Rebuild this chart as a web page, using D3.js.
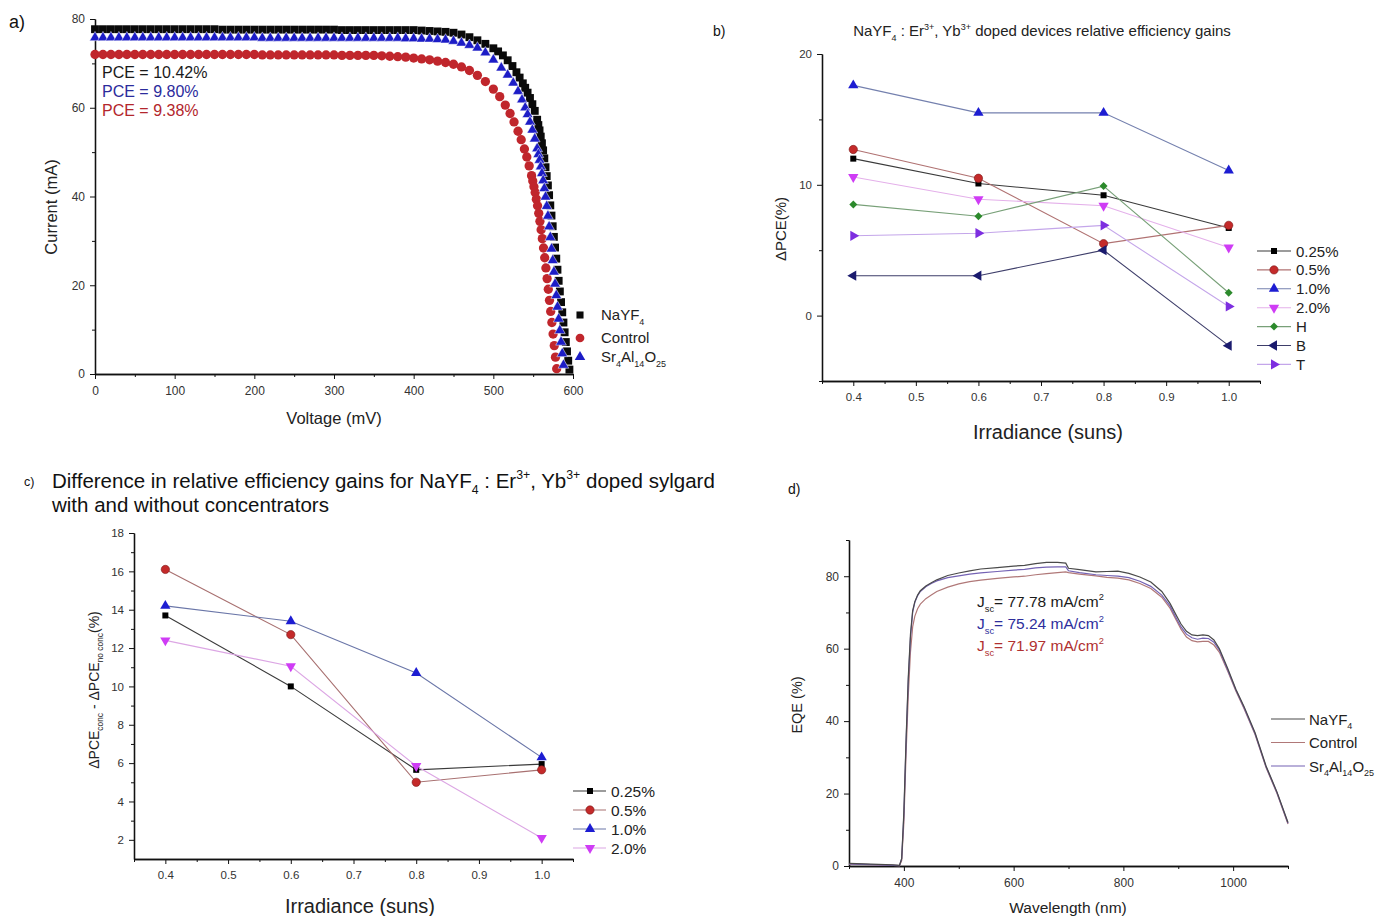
<!DOCTYPE html>
<html>
<head>
<meta charset="utf-8">
<script src="https://cdn.jsdelivr.net/npm/d3@7"></script>
<style>
  body { margin: 0; background: #fff; }
  text { font-family: "Liberation Sans", Arial, sans-serif; }
</style>
</head>
<body>
<div class="svg-wrapper"></div>
<script>
// ---------- panel a: J-V curves ----------
const jvVoltageNa = [0,10,20,30,40,50,60,70,80,90,100,110,120,130,140,150,160,170,180,190,200,210,220,230,240,250,260,270,280,290,300,310,320,330,340,350,360,370,380,390,400,410,420,430,440,
  450,460,470,480,490,500,506,512,518,524,529,533,537,540,543,546,549,552,
  555,556.5,558,559.5,561,562.5,564,565.5,567,568.5,570,571.5,573,574.5,576,577.5,579,580.5,582,583.5,585,586.5,588,589.5,591,592.5,594,595.5];
const jvCurrentNa = [77.7,77.7,77.7,77.7,77.7,77.7,77.7,77.7,77.7,77.7,77.7,77.7,77.7,77.7,77.7,77.7,77.6,77.6,77.6,77.6,77.6,77.6,77.6,77.6,77.6,77.6,77.6,77.6,77.6,77.6,77.6,77.5,77.5,77.5,77.5,77.5,77.5,77.5,77.5,77.5,77.5,77.4,77.3,77.2,77.1,
  76.9,76.5,75.9,75.2,74.4,73.4,72.7,71.8,70.7,69.4,68.0,66.8,65.5,64.5,63.4,62.2,60.8,59.3,
  57.3,56.1,54.9,53.5,52.0,50.4,48.6,46.6,44.6,42.5,40.3,38.0,35.7,33.3,30.9,28.5,26.0,23.5,21.0,18.6,16.2,13.9,11.6,9.4,7.2,5.1,3.0,1.0];

const jvVoltageCtrl = [0,10,20,30,40,50,60,70,80,90,100,110,120,130,140,150,160,170,180,190,200,210,220,230,240,250,260,270,280,290,300,310,320,330,340,350,360,370,380,390,400,410,420,430,440,
  450,460,470,480,490,500,508,515,521,526,531,535,539,542,545,
  548,549.5,551,552.5,554,555.5,557,558.5,560,561.5,563,564.5,566,567.5,569,570.5,572,573.5,575,576.5,578,579.5];
const jvCurrentCtrl = [72.0,72.0,72.0,72.0,72.0,72.0,72.0,72.0,72.0,72.0,72.0,72.0,72.0,72.0,72.0,72.0,72.0,72.0,72.0,72.0,72.0,71.9,71.9,71.9,71.9,71.9,71.9,71.9,71.9,71.9,71.9,71.8,71.8,71.8,71.8,71.8,71.7,71.6,71.5,71.4,71.2,71.0,70.8,70.5,70.2,
  69.8,69.2,68.4,67.3,65.9,64.2,62.5,60.6,58.7,56.8,54.7,52.8,50.7,48.9,46.9,
  44.7,43.5,42.2,40.9,39.4,37.9,36.2,34.4,32.5,30.5,28.4,26.2,23.9,21.5,19.1,16.6,14.1,11.6,9.0,6.4,3.8,1.2];

const jvVoltageSr = [0,10,20,30,40,50,60,70,80,90,100,110,120,130,140,150,160,170,180,190,200,210,220,230,240,250,260,270,280,290,300,310,320,330,340,350,360,370,380,390,400,410,420,430,440,
  450,460,470,480,490,500,510,518,525,531,536,540,543,546,549,552,
  555,556.5,558,559.5,561,562.5,564,565.5,567,568.5,570,571.5,573,574.5,576,577.5,579,580.5,582,583.5,585,586.5,588];
const jvCurrentSr = [75.8,75.8,75.8,75.8,75.8,75.8,75.8,75.8,75.8,75.8,75.8,75.8,75.8,75.8,75.8,75.8,75.8,75.8,75.8,75.8,75.8,75.7,75.7,75.7,75.7,75.7,75.7,75.7,75.7,75.7,75.7,75.7,75.7,75.7,75.7,75.7,75.7,75.7,75.7,75.6,75.6,75.5,75.5,75.4,75.3,
  75.0,74.6,74.1,73.5,72.4,70.8,69.0,67.4,65.6,63.7,61.8,60.0,58.5,56.8,55.0,53.0,
  50.8,49.5,48.2,46.7,45.2,43.6,41.8,39.9,37.8,35.6,33.2,30.8,28.2,25.6,23.0,20.3,17.7,15.1,12.4,9.8,7.2,4.6,2.0];

const pceLabels = ["PCE = 10.42%", "PCE = 9.80%", "PCE = 9.38%"];

// ---------- panel b: relative efficiency gains ----------
const irradiance = [0.4, 0.6, 0.8, 1.0];
const gainSeries = ["0.25%", "0.5%", "1.0%", "2.0%", "H", "B", "T"];
const gain025 = [12.0, 10.1, 9.2, 6.7];
const gain05  = [12.7, 10.5, 5.5, 6.9];
const gain10  = [17.6, 15.5, 15.5, 11.1];
const gain20  = [10.6, 8.9, 8.4, 5.2];
const gainH   = [8.5, 7.6, 9.9, 1.75];
const gainB   = [3.05, 3.05, 5.0, -2.3];
const gainT   = [6.1, 6.3, 6.9, 0.7];

// ---------- panel c: difference with / without concentrators ----------
const diffSeries = ["0.25%", "0.5%", "1.0%", "2.0%"];
const diff025 = [13.7, 10.0, 5.65, 5.95];
const diff05  = [16.1, 12.7, 5.0, 5.65];
const diff10  = [14.2, 13.4, 10.7, 6.3];
const diff20  = [12.4, 11.05, 5.85, 2.1];

// ---------- panel d: EQE ----------
const wavelength = [300,340,380,392,396,400,404,408,412,416,420,425,430,440,450,460,480,500,520,540,570,600,620,640,660,680,695,
  700,720,750,770,790,810,830,850,870,885,895,905,915,925,935,945,955,965,975,990,1005,1020,1040,1060,1080,1100];
const eqeNa   = [0.7,0.5,0.3,0.2,2,15,35,52,64,70.5,73,74.8,76,77.3,78.2,79,80.2,80.9,81.5,82,82.4,82.8,83,83.5,83.8,83.8,83.6,
  82.2,81.8,81.2,81.3,81.4,80.8,79.8,78.4,75.8,72.5,69.6,66.8,64.8,63.8,63.6,63.8,63.6,62.4,60.0,54.6,48.8,44.0,36.8,27.6,20.4,12.0];
const eqeCtrl = [0.5,0.4,0.2,0.1,1.5,12,31,47,59,66,69,71,72.3,73.8,74.8,75.8,77,77.9,78.5,78.9,79.4,79.8,80,80.4,80.7,81,81.2,
  81.0,80.6,80.1,79.7,79.5,79.0,78.0,76.6,74.2,71.2,68.3,65.4,63.2,62.2,61.9,62.0,62.0,61.0,59.0,53.8,48.3,43.4,36.3,27.2,20.0,11.6];
const eqeSr   = [0.6,0.4,0.2,0.1,2,14,34,51,63,70,72.8,74.6,75.8,77.1,78,78.7,79.6,80.1,80.6,80.9,81.3,81.7,81.9,82.3,82.5,82.6,82.6,
  81.5,81.0,80.4,80.2,80.0,79.6,78.6,77.2,74.8,71.8,68.8,66.0,64.0,63.0,62.6,62.9,62.8,61.8,59.6,54.2,48.6,43.7,36.5,27.4,20.2,11.8];
const jscLabels = ["= 77.78 mA/cm", "= 75.24 mA/cm", "= 71.97 mA/cm"];

// ------------------------------------------------------------
const svg = d3.select(".svg-wrapper").append("svg")
  .attr("width", 1375).attr("height", 916)
  .attr("viewBox", "0 0 1375 916");
svg.append("rect").attr("width", 1375).attr("height", 916).attr("fill", "#fff");

// text with sub / superscripts: parts = ["text", ["4","sub"], ["3+","sup"]]
function rich(g, x, y, parts, size, color, anchor) {
  const t = g.append("text").attr("x", x).attr("y", y)
    .attr("font-size", size).attr("fill", color || "#000")
    .attr("text-anchor", anchor || "start");
  let off = 0;
  parts.forEach(p => {
    const str = Array.isArray(p) ? p[0] : p;
    const kind = Array.isArray(p) ? p[1] : null;
    const target = kind == "sub" ? size * 0.3 : (kind == "sup" ? -size * 0.42 : 0);
    t.append("tspan")
      .attr("dy", target - off)
      .attr("font-size", kind ? size * 0.6 : size)
      .text(str);
    off = target;
  });
  return t;
}

function drawAxes(g, x, y, o) {
  const xAxis = d3.axisBottom(x).tickValues(o.xMajor).tickSize(5).tickSizeOuter(0).tickPadding(7).tickFormat(o.xFmt);
  const xMinor = d3.axisBottom(x).tickValues(o.xMinor).tickSize(3).tickSizeOuter(0).tickFormat("");
  const yAxis = d3.axisLeft(y).tickValues(o.yMajor).tickSize(5).tickSizeOuter(0).tickPadding(5).tickFormat(o.yFmt);
  const yMinor = d3.axisLeft(y).tickValues(o.yMinor).tickSize(3).tickSizeOuter(0).tickFormat("");

  const xg = g.append("g").attr("transform", `translate(0,${y.range()[0]})`);
  xg.append("g").call(xMinor);
  xg.append("g").call(xAxis);
  const yg = g.append("g").attr("transform", `translate(${x.range()[0]},0)`);
  yg.append("g").call(yMinor);
  yg.append("g").call(yAxis);

  g.selectAll(".domain").attr("stroke", "#111").attr("stroke-width", 1.3);
  g.selectAll(".tick line").attr("stroke", "#111").attr("stroke-width", 1);
  g.selectAll(".tick text").attr("fill", "#333").attr("font-size", o.tickSize)
    .attr("font-family", '"Liberation Sans", Arial, sans-serif');
}

function marker(sel, shape, size, fill, stroke) {
  let sym = d3.symbolCircle, rot = 0;
  if (shape == "square") sym = d3.symbolSquare;
  if (shape == "diamond") { sym = d3.symbolSquare; rot = 45; }
  if (shape == "up") sym = d3.symbolTriangle;
  if (shape == "down") { sym = d3.symbolTriangle; rot = 180; }
  if (shape == "left") { sym = d3.symbolTriangle; rot = -90; }
  if (shape == "right") { sym = d3.symbolTriangle; rot = 90; }
  return sel.append("path")
    .attr("d", d3.symbol().type(sym).size(size)())
    .attr("fill", fill)
    .attr("stroke", stroke || "none")
    .attr("stroke-width", 0.6)
    .attr("data-rot", rot);
}

// ================= panel a =================
(function(){
  const g = svg.append("g");
  const x = d3.scaleLinear().domain([0, 600]).range([95, 573]);
  const y = d3.scaleLinear().domain([0, 80]).range([374, 19]);

  drawAxes(g, x, y, {
    xMajor: [0,100,200,300,400,500,600], xMinor: [50,150,250,350,450,550],
    yMajor: [0,20,40,60,80], yMinor: [10,30,50,70],
    xFmt: d3.format("d"), yFmt: d3.format("d"), tickSize: 12
  });

  const curves = [
    {v: jvVoltageNa, i: jvCurrentNa, shape: "square", size: 62, color: "#0a0a0a"},
    {v: jvVoltageCtrl, i: jvCurrentCtrl, shape: "circle", size: 68, color: "#c0262c"},
    {v: jvVoltageSr, i: jvCurrentSr, shape: "up", size: 50, color: "#1c1cc6"}
  ];
  curves.forEach(c => {
    const pts = c.v.map((v, k) => [v, c.i[k]]);
    pts.forEach(p => {
      const m = marker(g, c.shape, c.size, c.color, c.shape == "up" ? "#ffffff" : "none");
      m.attr("transform", `translate(${x(p[0])},${y(p[1])}) rotate(${m.attr("data-rot")})`);
      if (c.shape == "up") m.attr("stroke-width", 0.5);
    });
  });

  const pceColors = ["#1a1a1a", "#2b2b9c", "#b3262c"];
  pceLabels.forEach((t, k) => {
    g.append("text").attr("x", 102).attr("y", 78 + k * 19)
      .attr("font-size", 16).attr("fill", pceColors[k]).text(t);
  });

  // legend
  const leg = [
    {shape: "square", size: 50, color: "#0a0a0a", parts: ["NaYF", ["4","sub"]]},
    {shape: "circle", size: 60, color: "#c0262c", parts: ["Control"]},
    {shape: "up", size: 48, color: "#1c1cc6", parts: ["Sr", ["4","sub"], "Al", ["14","sub"], "O", ["25","sub"]]}
  ];
  const legY = [315, 338, 357];
  leg.forEach((l, k) => {
    const m = marker(g, l.shape, l.size, l.color);
    m.attr("transform", `translate(580,${legY[k]})`);
    rich(g, 601, legY[k] + 5, l.parts, 15, "#222");
  });

  g.append("text").attr("transform", "translate(57,207) rotate(-90)")
    .attr("text-anchor", "middle").attr("font-size", 16.5).attr("fill", "#222").text("Current (mA)");
  g.append("text").attr("x", 334).attr("y", 424)
    .attr("text-anchor", "middle").attr("font-size", 16.5).attr("fill", "#222").text("Voltage (mV)");
  g.append("text").attr("x", 9).attr("y", 28).attr("font-size", 18).attr("fill", "#111").text("a)");
})();

// ================= panel b =================
(function(){
  const g = svg.append("g");
  const x = d3.scaleLinear().domain([0.35, 1.05]).range([822, 1260]);
  const y = d3.scaleLinear().domain([-5, 20]).range([381, 54]);

  drawAxes(g, x, y, {
    xMajor: [0.4,0.5,0.6,0.7,0.8,0.9,1.0], xMinor: [0.35,0.45,0.55,0.65,0.75,0.85,0.95,1.05],
    yMajor: [0,10,20], yMinor: [-5,5,15],
    xFmt: d3.format(".1f"), yFmt: d3.format("d"), tickSize: 11.5
  });

  const series = [
    {vals: gain025, shape: "square", size: 36, fill: "#000000", line: "#3a3a3a"},
    {vals: gain05, shape: "circle", size: 54, fill: "#c42a2a", line: "#b07272", stroke: "#7a1515"},
    {vals: gain10, shape: "up", size: 46, fill: "#1d1dd2", line: "#7480ae"},
    {vals: gain20, shape: "down", size: 46, fill: "#cf3cf5", line: "#e4b0ea"},
    {vals: gainH, shape: "diamond", size: 32, fill: "#2c8a2c", line: "#78a078"},
    {vals: gainB, shape: "left", size: 46, fill: "#1b1b6e", line: "#3e3e6a"},
    {vals: gainT, shape: "right", size: 46, fill: "#7d2ee0", line: "#c4a6ea"}
  ];
  const line = d3.line().x(d => x(d[0])).y(d => y(d[1]));
  series.forEach(s => {
    g.append("path").attr("d", line(irradiance.map((v, k) => [v, s.vals[k]])))
      .attr("fill", "none").attr("stroke", s.line).attr("stroke-width", 1.1);
  });
  series.forEach(s => {
    irradiance.forEach((v, k) => {
      const m = marker(g, s.shape, s.size, s.fill, s.stroke);
      m.attr("transform", `translate(${x(v)},${y(s.vals[k])}) rotate(${m.attr("data-rot")})`);
    });
  });

  // legend
  series.forEach((s, k) => {
    const ly = 251 + k * 18.9;
    g.append("line").attr("x1", 1257).attr("x2", 1291).attr("y1", ly).attr("y2", ly)
      .attr("stroke", s.line).attr("stroke-width", 1.1);
    const m = marker(g, s.shape, s.size, s.fill, s.stroke);
    m.attr("transform", `translate(1274,${ly}) rotate(${m.attr("data-rot")})`);
    g.append("text").attr("x", 1296).attr("y", ly + 5.5).attr("font-size", 15).attr("fill", "#222")
      .text(gainSeries[k]);
  });

  rich(g, 1042, 36, ["NaYF", ["4","sub"], " : Er", ["3+","sup"], ", Yb", ["3+","sup"], " doped devices relative efficiency gains"], 15, "#222", "middle");
  g.append("text").attr("transform", "translate(786,229) rotate(-90)")
    .attr("text-anchor", "middle").attr("font-size", 15).attr("fill", "#222").text("ΔPCE(%)");
  g.append("text").attr("x", 1048).attr("y", 439)
    .attr("text-anchor", "middle").attr("font-size", 20).attr("fill", "#222").text("Irradiance (suns)");
  g.append("text").attr("x", 713).attr("y", 36).attr("font-size", 14).attr("fill", "#111").text("b)");
})();

// ================= panel c =================
(function(){
  const g = svg.append("g");
  const x = d3.scaleLinear().domain([0.35, 1.05]).range([134, 573]);
  const y = d3.scaleLinear().domain([1, 18]).range([859, 533]);

  drawAxes(g, x, y, {
    xMajor: [0.4,0.5,0.6,0.7,0.8,0.9,1.0], xMinor: [0.35,0.45,0.55,0.65,0.75,0.85,0.95,1.05],
    yMajor: [2,4,6,8,10,12,14,16,18], yMinor: [3,5,7,9,11,13,15,17],
    xFmt: d3.format(".1f"), yFmt: d3.format("d"), tickSize: 11.5
  });

  const series = [
    {vals: diff025, shape: "square", size: 36, fill: "#000000", line: "#3a3a3a"},
    {vals: diff05, shape: "circle", size: 54, fill: "#c42a2a", line: "#a87070", stroke: "#7a1515"},
    {vals: diff10, shape: "up", size: 46, fill: "#1d1dd2", line: "#6a76a8"},
    {vals: diff20, shape: "down", size: 46, fill: "#cf3cf5", line: "#dca6e4"}
  ];
  const line = d3.line().x(d => x(d[0])).y(d => y(d[1]));
  series.forEach(s => {
    g.append("path").attr("d", line(irradiance.map((v, k) => [v, s.vals[k]])))
      .attr("fill", "none").attr("stroke", s.line).attr("stroke-width", 1.1);
  });
  series.forEach(s => {
    irradiance.forEach((v, k) => {
      const m = marker(g, s.shape, s.size, s.fill, s.stroke);
      m.attr("transform", `translate(${x(v)},${y(s.vals[k])}) rotate(${m.attr("data-rot")})`);
    });
  });

  series.forEach((s, k) => {
    const ly = 791 + k * 19;
    g.append("line").attr("x1", 573).attr("x2", 606).attr("y1", ly).attr("y2", ly)
      .attr("stroke", s.line).attr("stroke-width", 1.1);
    const m = marker(g, s.shape, s.size, s.fill, s.stroke);
    m.attr("transform", `translate(590,${ly}) rotate(${m.attr("data-rot")})`);
    g.append("text").attr("x", 611).attr("y", ly + 5.5).attr("font-size", 15.5).attr("fill", "#222")
      .text(diffSeries[k]);
  });

  g.append("text").attr("x", 24).attr("y", 486).attr("font-size", 12.5).attr("fill", "#111").text("c)");
  rich(g, 52, 488, ["Difference in relative efficiency gains for NaYF", ["4","sub"], " : Er", ["3+","sup"], ", Yb", ["3+","sup"], " doped sylgard"], 20.5, "#111");
  g.append("text").attr("x", 52).attr("y", 512).attr("font-size", 20.5).attr("fill", "#111").text("with  and without concentrators");

  rich(g.append("g").attr("transform", "translate(99,690) rotate(-90)"), 0, 0,
    ["ΔPCE", ["conc","sub"], " - ΔPCE", ["no conc","sub"], "(%)"], 14, "#222", "middle");
  g.append("text").attr("x", 360).attr("y", 913)
    .attr("text-anchor", "middle").attr("font-size", 20).attr("fill", "#222").text("Irradiance (suns)");
})();

// ================= panel d =================
(function(){
  const g = svg.append("g");
  const x = d3.scaleLinear().domain([300, 1100]).range([849, 1288]);
  const y = d3.scaleLinear().domain([0, 90]).range([866, 540]);

  drawAxes(g, x, y, {
    xMajor: [400,600,800,1000], xMinor: [300,500,700,900,1100],
    yMajor: [0,20,40,60,80], yMinor: [10,30,50,70,90],
    xFmt: d3.format("d"), yFmt: d3.format("d"), tickSize: 12
  });

  const curves = [
    {vals: eqeCtrl, color: "#b07878", name: ["Control"]},
    {vals: eqeSr, color: "#7462b4", name: ["Sr", ["4","sub"], "Al", ["14","sub"], "O", ["25","sub"]]},
    {vals: eqeNa, color: "#4a4a4a", name: ["NaYF", ["4","sub"]]}
  ];
  const line = d3.line().x(d => x(d[0])).y(d => y(d[1]));
  curves.forEach(c => {
    g.append("path").attr("d", line(wavelength.map((w, k) => [w, c.vals[k]])))
      .attr("fill", "none").attr("stroke", c.color).attr("stroke-width", 1.2);
  });

  const legOrder = [curves[2], curves[0], curves[1]];
  legOrder.forEach((c, k) => {
    const ly = 719 + k * 23.5;
    g.append("line").attr("x1", 1271).attr("x2", 1305).attr("y1", ly).attr("y2", ly)
      .attr("stroke", c.color).attr("stroke-width", 1.2);
    rich(g, 1309, ly + 5.5, c.name, 15, "#222");
  });

  const jscColors = ["#1a1a1a", "#2e2e9c", "#b03030"];
  jscLabels.forEach((t, k) => {
    rich(g, 977, 607 + k * 22, ["J", ["sc","sub"], t, ["2","sup"]], 15.5, jscColors[k]);
  });

  g.append("text").attr("transform", "translate(802,705) rotate(-90)")
    .attr("text-anchor", "middle").attr("font-size", 14.5).attr("fill", "#222").text("EQE (%)");
  g.append("text").attr("x", 1068).attr("y", 913)
    .attr("text-anchor", "middle").attr("font-size", 15.5).attr("fill", "#222").text("Wavelength (nm)");
  g.append("text").attr("x", 788).attr("y", 494).attr("font-size", 14).attr("fill", "#111").text("d)");
})();
</script>
</body>
</html>
